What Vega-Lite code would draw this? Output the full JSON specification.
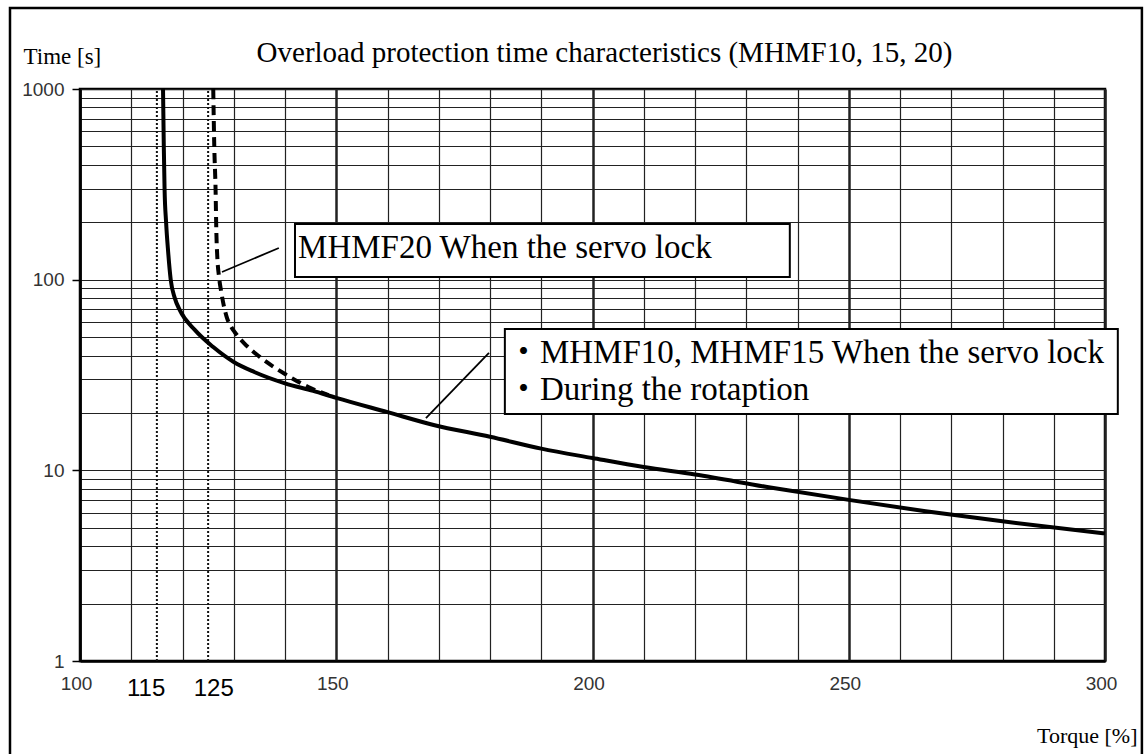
{
  "$schema": "https://vega.github.io/schema/vega-lite/v6.json",
  "width": 1025,
  "height": 572,
  "autosize": {"type": "none"},
  "padding": {"left": 80, "top": 89, "right": 43, "bottom": 93},
  "background": "white",
  "config": {
    "view": {"stroke": "black", "strokeWidth": 2.5},
    "font": "Liberation Serif"
  },
  "title": {
    "text": "Overload protection time characteristics (MHMF10, 15, 20)",
    "font": "Liberation Serif",
    "fontSize": 29,
    "fontWeight": "normal",
    "color": "black",
    "anchor": "middle",
    "frame": "group",
    "baseline": "alphabetic",
    "offset": -84,
    "dx": 12
  },
  "datasets": {
    "solid": [
      {"v": 116.2, "t": 1000}, {"v": 116.35, "t": 500}, {"v": 116.5, "t": 300},
      {"v": 116.8, "t": 200}, {"v": 117.2, "t": 140}, {"v": 117.7, "t": 100},
      {"v": 118.5, "t": 80}, {"v": 119.5, "t": 69}, {"v": 122.4, "t": 54.5},
      {"v": 126, "t": 44.3}, {"v": 130, "t": 37}, {"v": 134, "t": 32.8},
      {"v": 140, "t": 28.6}, {"v": 145.5, "t": 26.1}, {"v": 150, "t": 24},
      {"v": 160, "t": 20.2}, {"v": 169, "t": 17.3}, {"v": 180, "t": 15},
      {"v": 190, "t": 13}, {"v": 200, "t": 11.6}, {"v": 210, "t": 10.4},
      {"v": 220, "t": 9.5}, {"v": 235, "t": 8.1}, {"v": 250, "t": 7.0},
      {"v": 265, "t": 6.1}, {"v": 280, "t": 5.4}, {"v": 300, "t": 4.67}
    ],
    "dashed": [
      {"v": 126.0, "t": 1000}, {"v": 126.2, "t": 500}, {"v": 126.45, "t": 300},
      {"v": 126.6, "t": 180}, {"v": 126.8, "t": 130}, {"v": 127.1, "t": 105},
      {"v": 127.6, "t": 85}, {"v": 128.6, "t": 64}, {"v": 129.6, "t": 56},
      {"v": 130.2, "t": 53}, {"v": 132, "t": 46.5}, {"v": 135, "t": 39.5},
      {"v": 140, "t": 32}, {"v": 145, "t": 27}, {"v": 148.5, "t": 24.8}
    ],
    "dotted": [
      {"v": 115, "t": 1, "t2": 1000},
      {"v": 125, "t": 1, "t2": 1000}
    ],
    "boxes": [
      {"v": 141.95, "v2": 238.5, "t": 195.8, "t2": 103.2},
      {"v": 182.9, "v2": 302.5, "t": 55.1, "t2": 19.74}
    ],
    "leaders": [
      {"v": 127.7, "t": 109.7, "v2": 138.8, "t2": 146.6},
      {"v": 167.5, "t": 18.8, "v2": 179.8, "t2": 41.3}
    ],
    "notes": [
      {"v": 142.55, "t": 130, "label": "MHMF20 When the servo lock"},
      {"v": 183.3, "t": 36.5, "label": "・MHMF10, MHMF15 When the servo lock"},
      {"v": 183.3, "t": 23.4, "label": "・During the rotaption"}
    ],
    "marks": [
      {"v": 112.9, "t": 0.713, "label": "115"},
      {"v": 126.1, "t": 0.713, "label": "125"}
    ],
    "frame": [
      {"v": 86.34, "v2": 307.2, "t": 2660, "t2": 0.3}
    ]
  },
  "encoding": {
    "x": {
      "field": "v",
      "type": "quantitative",
      "scale": {"domain": [100, 300], "nice": false, "zero": false},
      "axis": {
        "values": [100, 110, 120, 130, 140, 150, 160, 170, 180, 190, 200, 210, 220, 230, 240, 250, 260, 270, 280, 290, 300],
        "grid": true,
        "gridColor": "#222222",
        "gridWidth": {"condition": {"test": "datum.value % 50 === 0", "value": 2.5}, "value": 1.2},
        "ticks": false,
        "tickSize": 0,
        "labelExpr": "datum.value % 50 === 0 ? format(datum.value, 'd') : ''",
        "labelFont": "Liberation Sans",
        "labelFontSize": 19,
        "labelColor": "#333333",
        "labelPadding": 13,
        "labelOffset": -4,
        "labelFlush": false,
        "labelOverlap": false,
        "domainColor": "black",
        "domainWidth": 2.5,
        "title": "Torque [%]",
        "titleFont": "Liberation Serif",
        "titleFontSize": 22,
        "titleFontWeight": "normal",
        "titleColor": "black",
        "titleAlign": "right",
        "titleBaseline": "alphabetic",
        "titleX": 1057,
        "titleY": 81
      }
    },
    "y": {
      "field": "t",
      "type": "quantitative",
      "scale": {"type": "log", "domain": [1, 1000], "nice": false},
      "axis": {
        "values": [1, 2, 3, 4, 5, 6, 7, 8, 9, 10, 20, 30, 40, 50, 60, 70, 80, 90, 100, 200, 300, 400, 500, 600, 700, 800, 900, 1000],
        "grid": true,
        "gridColor": "#222222",
        "gridWidth": 1.2,
        "ticks": true,
        "tickSize": 8,
        "tickColor": "black",
        "tickWidth": 1.5,
        "tickOpacity": {"condition": {"test": "datum.value == 1 || datum.value == 10 || datum.value == 100 || datum.value == 1000", "value": 1}, "value": 0},
        "labelExpr": "datum.value == 1 || datum.value == 10 || datum.value == 100 || datum.value == 1000 ? format(datum.value, 'd') : ''",
        "labelFont": "Liberation Sans",
        "labelFontSize": 19,
        "labelColor": "#333333",
        "labelPadding": 8,
        "labelFlush": false,
        "labelOverlap": false,
        "domainColor": "black",
        "domainWidth": 2.5,
        "title": "Time [s]",
        "titleFont": "Liberation Serif",
        "titleFontSize": 23,
        "titleFontWeight": "normal",
        "titleColor": "black",
        "titleAngle": 0,
        "titleAlign": "left",
        "titleBaseline": "alphabetic",
        "titleX": -57,
        "titleY": -26
      }
    }
  },
  "layer": [
    {
      "data": {"name": "dotted"},
      "mark": {"type": "rule", "color": "#111111", "strokeWidth": 2, "strokeDash": [2, 2]},
      "encoding": {"y2": {"field": "t2"}}
    },
    {
      "data": {"name": "solid"},
      "mark": {"type": "line", "color": "black", "strokeWidth": 4, "interpolate": "monotone"}
    },
    {
      "data": {"name": "dashed"},
      "mark": {"type": "line", "color": "black", "strokeWidth": 4, "strokeDash": [10, 6], "interpolate": "monotone"}
    },
    {
      "data": {"name": "boxes"},
      "mark": {"type": "rect", "fill": "white", "stroke": "black", "strokeWidth": 2},
      "encoding": {"x2": {"field": "v2"}, "y2": {"field": "t2"}}
    },
    {
      "data": {"name": "leaders"},
      "mark": {"type": "rule", "color": "black", "strokeWidth": 1.8},
      "encoding": {"x2": {"field": "v2"}, "y2": {"field": "t2"}}
    },
    {
      "data": {"name": "notes"},
      "mark": {"type": "text", "align": "left", "baseline": "alphabetic", "font": "Liberation Serif, Noto Sans CJK JP", "fontSize": 33, "color": "black"},
      "encoding": {"text": {"field": "label"}}
    },
    {
      "data": {"name": "marks"},
      "mark": {"type": "text", "align": "center", "baseline": "middle", "font": "Liberation Sans", "fontSize": 24, "color": "black"},
      "encoding": {"text": {"field": "label"}}
    },
    {
      "data": {"name": "frame"},
      "mark": {"type": "rect", "fill": null, "stroke": "black", "strokeWidth": 2.5, "clip": false},
      "encoding": {"x2": {"field": "v2"}, "y2": {"field": "t2"}}
    }
  ]
}
